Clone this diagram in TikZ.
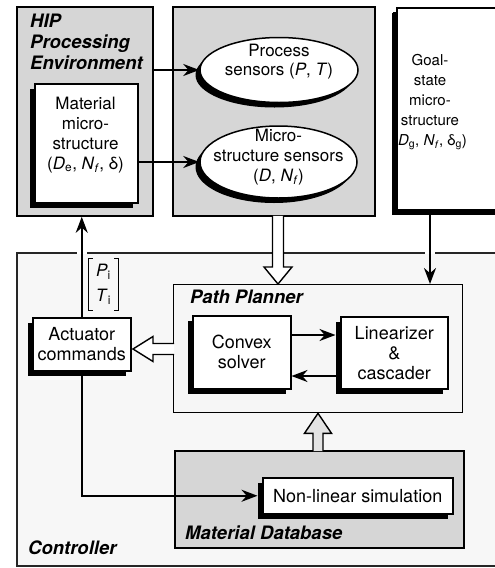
\documentclass[tikz,border=0pt]{standalone}
\usepackage{fontspec}
\setmainfont{TeX Gyre Heros}
\usetikzlibrary{shadows,shapes.geometric,arrows.meta,calc}
\begin{document}
\begin{tikzpicture}[x=1pt,y=-1pt,
  big/.style={draw=black, line width=1.8pt, inner sep=0pt, anchor=north west},
  shbox/.style={draw=black, fill=white, line width=1.5pt, inner sep=0pt,
     drop shadow={shadow xshift=-4.5pt, shadow yshift=-5pt, fill=black, opacity=1}},
  txt/.style={align=center, inner sep=0pt, font=\fontsize{18}{20}\selectfont},
  ttl/.style={anchor=west, inner sep=0pt, font=\fontsize{18.5}{21}\selectfont\bfseries\itshape},
  arr/.style={line width=2.2pt, -{Stealth[length=16pt,width=12pt]}},
  hollow/.style={draw=black, line width=1.4pt, line join=miter, fill=white},
  gapfill/.style={fill=white}
]
\useasboundingbox (0,0) rectangle (495,568);
% Controller
\node[big, draw=black!85, line width=1.5pt, fill=gray!6, minimum width=520pt, minimum height=313pt] (ctrl) at (16,252) {};
\node[ttl] (ctrlt) at (28,548) {Controller};
% top boxes
\node[big, fill=gray!32, minimum width=136pt, minimum height=209pt] (hip) at (16,6) {};
\node[ttl, anchor=north west, align=left] (hipt) at (30,14) {HIP\\Processing\\Environment};
\node[big, fill=gray!32, minimum width=202pt, minimum height=209pt] (mid) at (172,6) {};
\node[shbox, line width=1.8pt, anchor=north west, minimum width=140pt, minimum height=202pt,
   drop shadow={shadow xshift=-4pt, shadow yshift=-4pt, fill=black, opacity=1}] (goal) at (396,7) {};
\node[txt, font=\fontsize{15}{20}\selectfont] (goalt) at (430,102)
  {Goal-\\state\\micro-\\structure\\(\textit{D}\textsubscript{g}, \textit{N}\textsubscript{\textit{f}}, δ\textsubscript{g})};
% material microstructure
\node[shbox, anchor=north west, minimum width=103pt, minimum height=119pt] (mat) at (34,83) {};
\node[txt, font=\fontsize{17}{20}\selectfont] (matt) at (85.5,135)
  {Material\\micro-\\structure\\(\textit{D}\textsubscript{e}, \textit{N}\textsubscript{\textit{f}}, δ)};
% sensors
\node[shbox, ellipse, minimum width=158pt, minimum height=65pt] (proc) at (279,70) {};
\node[txt, font=\fontsize{17}{19}\selectfont] (proct) at (279,62) {Process\\sensors (\textit{P}, \textit{T})};
\node[shbox, ellipse, minimum width=157pt, minimum height=72pt] (micro) at (278.5,162) {};
\node[txt, font=\fontsize{17}{20}\selectfont] (microt) at (278.5,157)
  {Micro-\\structure sensors\\(\textit{D}, \textit{N}\textsubscript{\textit{f}})};
\draw[arr] (hip.east |- proc.west) -- (proc.west);
\draw[arr] (mat.east |- micro.west) -- (micro.west);
% path planner
\node[big, line width=1.3pt, fill=gray!7, minimum width=289pt, minimum height=128pt] (plan) at (173,284) {};
\node[ttl] (plant) at (190,297) {Path Planner};
\node[shbox, txt, anchor=north west, minimum width=98pt, minimum height=73pt] (conv) at (192,315) {Convex\\solver};
\node[shbox, txt, anchor=north west, minimum width=107pt, minimum height=72pt] (lin) at (340,316) {Linearizer\\\&\\cascader};
\coordinate (y1) at (0,335);
\coordinate (y2) at (0,376);
\draw[arr] (conv.east |- y1) -- ($(lin.west |- y1)+(-4.5,0)$);
\draw[arr] ($(lin.west |- y2)+(-4.5,0)$) -- (conv.east |- y2);
% actuator
\node[shbox, txt, anchor=north west, minimum width=98pt, minimum height=53pt] (act) at (32,317) {Actuator\\commands};
% material database
\node[big, fill=gray!32, minimum width=289pt, minimum height=97pt] (db) at (174,450) {};
\node[shbox, txt, anchor=north west, minimum width=190pt, minimum height=36pt] (nl) at (262,477) {Non-linear simulation};
\node[ttl] (dbt) at (185,533) {Material Database};
% gaps in controller border
\fill[gapfill] ($(act.north |- ctrl.north)+(-5,-2)$) rectangle ($(act.north |- ctrl.north)+(5,2)$);
\fill[gapfill] ($(goalt.south |- ctrl.north)+(-5,-2)$) rectangle ($(goalt.south |- ctrl.north)+(5,2)$);
% solid arrows
\draw[arr] (act.north) -- (act.north |- hip.south);
\draw[arr] (goalt.south |- goal.south) -- (goalt.south |- plan.north);
\draw[arr] (act.south) -- (act.south |- nl.west) -- ($(nl.west)+(-4.5,0)$);
% bracket label
\node[inner sep=0pt, minimum width=29pt, minimum height=51pt, align=center, font=\fontsize{17}{25}\selectfont] (pt) at (103.5,284.5)
  {\textit{P}\textsubscript{i}\\\textit{T}\textsubscript{i}};
\draw[line width=1.2pt, line join=miter] ($(pt.north west)+(4,0)$) -- (pt.north west) -- (pt.south west) -- ($(pt.south west)+(4,0)$);
\draw[line width=1.2pt, line join=miter] ($(pt.north east)+(-4,0)$) -- (pt.north east) -- (pt.south east) -- ($(pt.south east)+(-4,0)$);
% hollow arrows
\coordinate (hx) at (278,0);
\coordinate (hs) at (hx |- mid.south);
\coordinate (ht) at (hx |- plan.north);
\draw[hollow] ($(hs)+(-5.5,-1)$) -- ($(ht)+(-5.5,-17)$) -- ($(ht)+(-14,-17)$) -- (ht) -- ($(ht)+(14,-17)$) -- ($(ht)+(5.5,-17)$) -- ($(hs)+(5.5,-1)$);
\coordinate (ly) at (0,349);
\coordinate (ls) at (plan.west |- ly);
\coordinate (lt) at ($(act.east |- ly)+(1.5,0)$);
\draw[hollow] ($(ls)+(1,-5.5)$) -- ($(lt)+(20,-5.5)$) -- ($(lt)+(20,-12.5)$) -- (lt) -- ($(lt)+(20,12.5)$) -- ($(lt)+(20,5.5)$) -- ($(ls)+(1,5.5)$);
\coordinate (ux) at (318,0);
\coordinate (us) at (ux |- db.north);
\coordinate (ut) at (ux |- plan.south);
\draw[hollow, fill=gray!22] ($(us)+(-5,1)$) -- ($(ut)+(-5,20)$) -- ($(ut)+(-13.5,20)$) -- (ut) -- ($(ut)+(13.5,20)$) -- ($(ut)+(5,20)$) -- ($(us)+(5,1)$);
\end{tikzpicture}
\end{document}
